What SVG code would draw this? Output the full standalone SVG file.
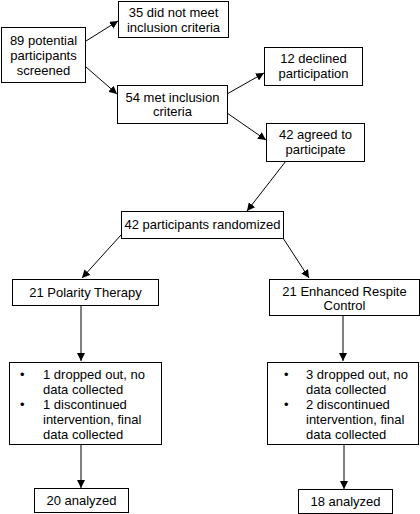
<svg xmlns="http://www.w3.org/2000/svg" width="420" height="514" viewBox="0 0 420 514">
<style>
rect{fill:#fff;stroke:#000;stroke-width:1}
text{font-family:"Liberation Sans",Arial,sans-serif;font-size:13px;fill:#000}
.c{text-anchor:middle}
#connectors line{stroke:#000;stroke-width:1;marker-end:url(#ah)}
</style>
<defs>
<marker id="ah" viewBox="0 0 10 10" refX="10" refY="5" markerWidth="8" markerHeight="8" markerUnits="userSpaceOnUse" orient="auto">
<path d="M0,0 L10,5 L0,10 z" fill="#000"/>
</marker>
</defs>
<rect x="0" y="0" width="420" height="514" style="stroke:none"/>
<g id="connectors">
<line x1="86" y1="41" x2="118" y2="21"/>
<line x1="86" y1="67" x2="117" y2="94"/>
<line x1="227" y1="94" x2="264" y2="73"/>
<line x1="227" y1="113" x2="266" y2="140"/>
<line x1="286" y1="161" x2="247" y2="211"/>
<line x1="121" y1="235" x2="82" y2="278"/>
<line x1="283" y1="238" x2="309" y2="278"/>
<line x1="81" y1="306" x2="81" y2="361"/>
<line x1="81" y1="444" x2="81" y2="488"/>
<line x1="343" y1="315" x2="343" y2="361"/>
<line x1="344" y1="444" x2="344" y2="489"/>
</g>
<g id="screened"><rect x="1.5" y="27.5" width="84" height="55"/>
<text class="c" x="43.5" y="45">89 potential</text><text class="c" x="43.5" y="60">participants</text><text class="c" x="43.5" y="75">screened</text></g>
<g id="notmet"><rect x="118.5" y="1.5" width="110" height="36"/>
<text class="c" x="173.5" y="16.5">35 did not meet</text><text class="c" x="173.5" y="31.5">inclusion criteria</text></g>
<g id="met"><rect x="117.5" y="85.5" width="110" height="38"/>
<text class="c" x="172.5" y="101.5">54 met inclusion</text><text class="c" x="172.5" y="116">criteria</text></g>
<g id="declined"><rect x="264.5" y="47.5" width="98" height="38"/>
<text class="c" x="313.5" y="62.5">12 declined</text><text class="c" x="313.5" y="77.5">participation</text></g>
<g id="agreed"><rect x="266.5" y="123.5" width="98" height="38"/>
<text class="c" x="315.5" y="138.5">42 agreed to</text><text class="c" x="315.5" y="153.5">participate</text></g>
<g id="randomized"><rect x="121.5" y="211.5" width="162" height="27"/>
<text class="c" x="202.5" y="229">42 participants randomized</text></g>
<g id="polarity"><rect x="12.5" y="279.5" width="146" height="26"/>
<text class="c" x="85.5" y="297">21 Polarity Therapy</text></g>
<g id="erc"><rect x="269.5" y="279.5" width="150" height="36"/>
<text class="c" x="344.5" y="295.5">21 Enhanced Respite</text><text class="c" x="344.5" y="310">Control</text></g>
<g id="leftbullets"><rect x="9.5" y="362.5" width="152" height="82"/>
<text x="20" y="379">•</text><text x="43" y="379">1 dropped out, no</text>
<text x="43" y="394">data collected</text>
<text x="20" y="409">•</text><text x="43" y="409">1 discontinued</text>
<text x="43" y="424">intervention, final</text>
<text x="43" y="439">data collected</text></g>
<g id="rightbullets"><rect x="267.5" y="362.5" width="151" height="82"/>
<text x="284" y="379">•</text><text x="306" y="379">3 dropped out, no</text>
<text x="306" y="394">data collected</text>
<text x="284" y="409">•</text><text x="306" y="409">2 discontinued</text>
<text x="306" y="424">intervention, final</text>
<text x="306" y="439">data collected</text></g>
<g id="analyzed20"><rect x="34.5" y="488.5" width="94" height="24"/>
<text class="c" x="81.5" y="505">20 analyzed</text></g>
<g id="analyzed18"><rect x="298.5" y="489.5" width="94" height="24"/>
<text class="c" x="345.5" y="505.5">18 analyzed</text></g>
</svg>
